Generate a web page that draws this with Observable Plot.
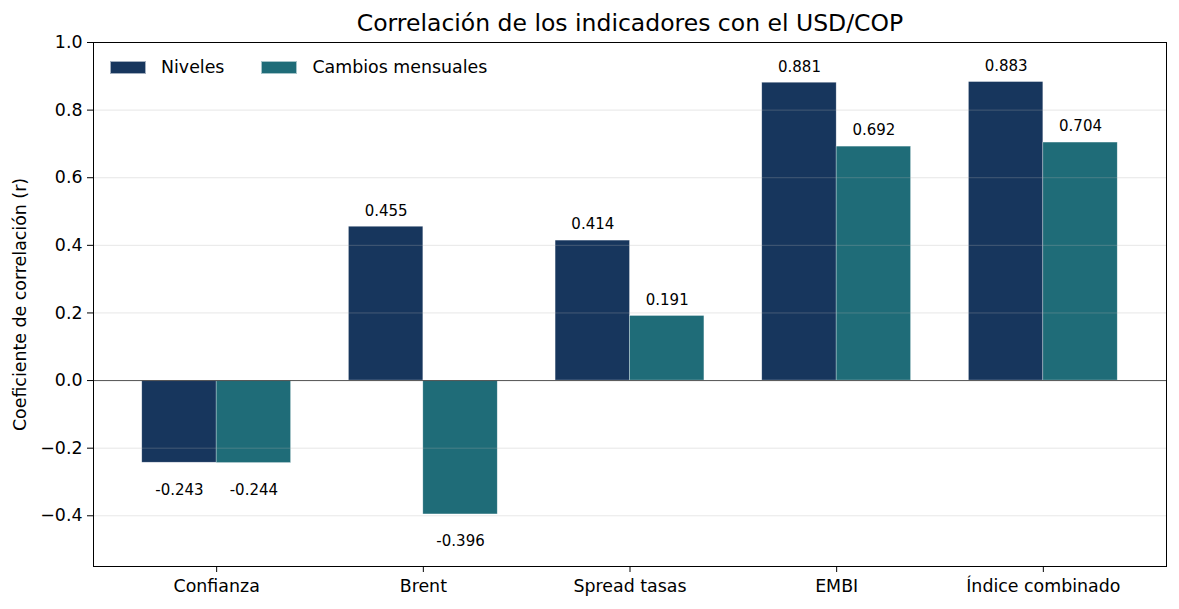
<!DOCTYPE html>
<html>
<head>
<meta charset="utf-8">
<script src="https://cdn.jsdelivr.net/npm/d3@7"></script>
<script src="https://cdn.jsdelivr.net/npm/@observablehq/plot@0.6"></script>
<style>
  body { margin: 0; background: #fff; font-family: "DejaVu Sans", sans-serif; }
  #wrap { position: relative; width: 1179px; height: 609px; }
  #legend { position: absolute; left: 110px; top: 57px; display: flex; align-items: center; font-size: 17.4px; color: #000; }
  .item { display: flex; align-items: center; margin-right: 37px; }
  .sw { width: 36px; height: 13px; margin-right: 15px; box-sizing: border-box; border: 0.6px solid rgba(255,255,255,0.6); }
</style>
</head>
<body>
<div id="wrap"></div>
<script>
const categories = ["Confianza", "Brent", "Spread tasas", "EMBI", "Índice combinado"];
const series = ["Niveles", "Cambios mensuales"];
const niveles = [-0.243, 0.455, 0.414, 0.881, 0.883];
const cambios = [-0.244, -0.396, 0.191, 0.692, 0.704];
const colors = ["#17365d", "#1f6c78"];
const yTicks = [-0.4, -0.2, 0.0, 0.2, 0.4, 0.6, 0.8, 1.0];
const title = "Correlación de los indicadores con el USD/COP";
const yLabel = "Coeficiente de correlación (r)";

const barW = 0.36;
const rows = [];
categories.forEach((c, i) => {
  rows.push({i, cat: c, serie: series[0], value: niveles[i], x1: i - barW, x2: i});
  rows.push({i, cat: c, serie: series[1], value: cambios[i], x1: i, x2: i + barW});
});
const fmtVal = d3.format(".3f");
const fmtValHyphen = v => fmtVal(v).replace("−", "-");

const chart = Plot.plot({
  width: 1179,
  height: 609,
  marginLeft: 93,
  marginRight: 13,
  marginTop: 42,
  marginBottom: 43,
  style: { fontFamily: "DejaVu Sans, sans-serif", fontSize: "17.4px", color: "#000", background: "#fff" },
  x: { type: "linear", domain: [-0.596, 4.596] },
  y: { domain: [-0.55, 1.0] },
  color: { domain: series, range: colors },
  marks: [
    Plot.rect(rows, { x1: "x1", x2: "x2", y1: 0, y2: "value", fill: "serie", stroke: "white", strokeWidth: 0.6, strokeOpacity: 0.5 }),
    Plot.ruleY(yTicks, { stroke: "#b0b0b0", strokeOpacity: 0.3, strokeWidth: 1 }),
    Plot.ruleY([0], { stroke: "#555", strokeWidth: 1 }),
    Plot.text(rows.filter(d => d.value >= 0), { x: d => (d.x1 + d.x2) / 2, y: "value", text: d => fmtValHyphen(d.value), dy: -16, fontSize: 15, fill: "#000" }),
    Plot.text(rows.filter(d => d.value < 0), { x: d => (d.x1 + d.x2) / 2, y: "value", text: d => fmtValHyphen(d.value), dy: 27, fontSize: 15, fill: "#000" }),
    Plot.frame({ stroke: "#000", strokeWidth: 1 }),
    Plot.axisY({ ticks: yTicks, tickFormat: d3.format(".1f"), tickSize: 6, tickPadding: 5, label: yLabel, labelAnchor: "center", labelArrow: "none", labelOffset: 80 }),
    Plot.axisX({ ticks: d3.range(categories.length), tickFormat: i => categories[i], tickSize: 6, tickPadding: 7, label: null }),
    Plot.text([title], { frameAnchor: "top", lineAnchor: "middle", dy: -19, fontSize: 23.5, fill: "#000" })
  ]
});
const wrap = document.getElementById("wrap");
wrap.appendChild(chart);

const legend = document.createElement("div");
legend.id = "legend";
series.forEach((s, k) => {
  const it = document.createElement("div");
  it.className = "item";
  const sw = document.createElement("div");
  sw.className = "sw";
  sw.style.background = colors[k];
  const lab = document.createElement("span");
  lab.textContent = s;
  it.appendChild(sw);
  it.appendChild(lab);
  legend.appendChild(it);
});
wrap.appendChild(legend);
</script>
</body>
</html>
